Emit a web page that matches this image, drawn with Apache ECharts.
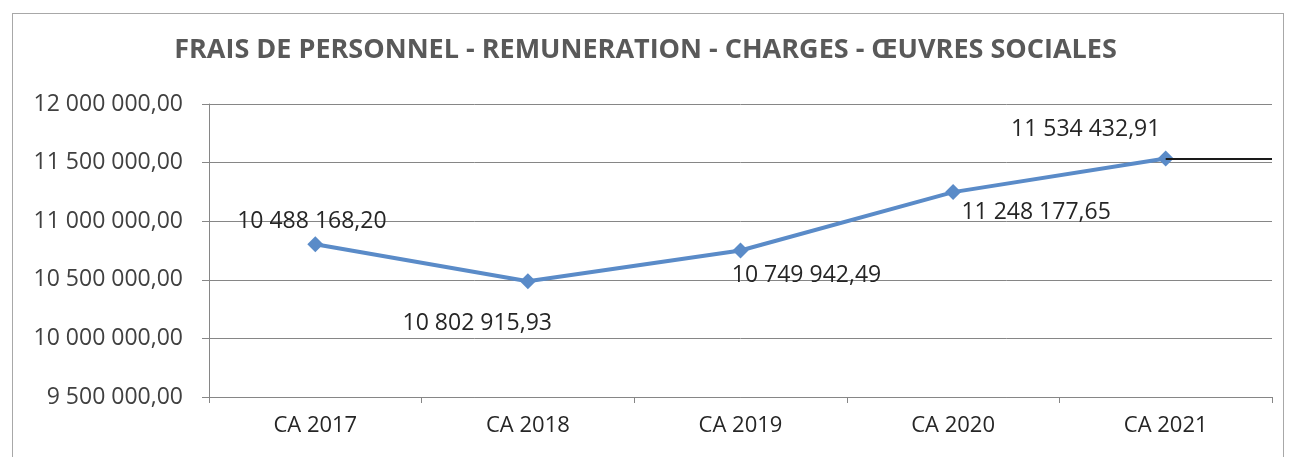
<!DOCTYPE html>
<html>
<head>
<meta charset="utf-8">
<script src="https://cdn.jsdelivr.net/npm/echarts@6/dist/echarts.min.js"></script>
<style>
  html, body { margin: 0; padding: 0; background: #fff; }
  #frame { position: absolute; left: 12px; top: 13px; width: 1272px; height: 470px; border: 1px solid #a8a8a8; box-sizing: border-box; }
  #chart { position: absolute; left: 0; top: 0; width: 1291px; height: 457px; }
</style>
</head>
<body>
<div id="frame"></div>
<div id="chart"></div>
<script>
// Frais de personnel par compte administratif
const titleText = 'FRAIS DE PERSONNEL - REMUNERATION - CHARGES - ŒUVRES SOCIALES';
const categories = ['CA 2017', 'CA 2018', 'CA 2019', 'CA 2020', 'CA 2021'];
const amounts = [10802915.93, 10488168.20, 10749942.49, 11248177.65, 11534432.91];
const yMin = 9500000;
const yMax = 12000000;
const yStep = 500000;

// Where each value label sits relative to its point (dx, dy in px)
const labelOffsets = [[162, 79], [-216, -60], [66, 25], [83, 20], [-80, -29]];

// French number format: space as thousands separator, comma for decimals
function frNumber(v) {
  const parts = v.toFixed(2).split('.');
  const intPart = parts[0].replace(/\B(?=(\d{3})+(?!\d))/g, ' ');
  return intPart + ',' + parts[1];
}

const FONT = '"Open Sans", "Noto Sans", sans-serif';

const chart = echarts.init(document.getElementById('chart'), null, { renderer: 'canvas' });
chart.setOption({
  backgroundColor: 'transparent',
  animation: false,
  title: {
    text: titleText,
    left: 'center',
    top: 32,
    textStyle: { fontFamily: FONT, fontSize: 27, fontWeight: 'bold', color: '#595959' }
  },
  grid: { left: 209, right: 19, top: 104, bottom: 60, containLabel: false },
  xAxis: {
    type: 'category',
    data: categories,
    boundaryGap: true,
    axisLine: { show: true, lineStyle: { color: '#868686', width: 1 } },
    axisTick: { show: true, alignWithLabel: false, length: 6, lineStyle: { color: '#868686' } },
    axisLabel: { fontFamily: FONT, fontSize: 22, color: '#262626', margin: 18 },
    splitLine: { show: false }
  },
  yAxis: {
    type: 'value',
    min: yMin,
    max: yMax,
    interval: yStep,
    axisLine: { show: true, lineStyle: { color: '#868686', width: 1 } },
    axisTick: { show: true, length: 7, lineStyle: { color: '#868686' } },
    axisLabel: {
      fontFamily: FONT, fontSize: 23, color: '#404040', margin: 26,
      formatter: v => frNumber(v)
    },
    splitLine: { show: true, lineStyle: { color: '#868686', width: 1 } }
  },
  series: [{
    type: 'line',
    data: amounts.map((v, i) => ({
      value: v,
      label: { offset: labelOffsets[i] }
    })),
    symbol: 'diamond',
    symbolSize: 16,
    lineStyle: { color: '#5a8bc8', width: 4 },
    itemStyle: { color: '#5a8bc8' },
    label: {
      show: true,
      position: 'inside',
      fontFamily: FONT,
      fontSize: 23,
      color: '#262626',
      formatter: p => frNumber(p.value)
    },
    markLine: {
      silent: true,
      symbol: 'none',
      label: { show: false },
      lineStyle: { color: '#1a1a1a', width: 2, type: 'solid' },
      data: [[
        { xAxis: categories[4], yAxis: amounts[4] },
        { x: 1272, yAxis: amounts[4] }
      ]]
    },
    z: 3
  }]
});
</script>
</body>
</html>
